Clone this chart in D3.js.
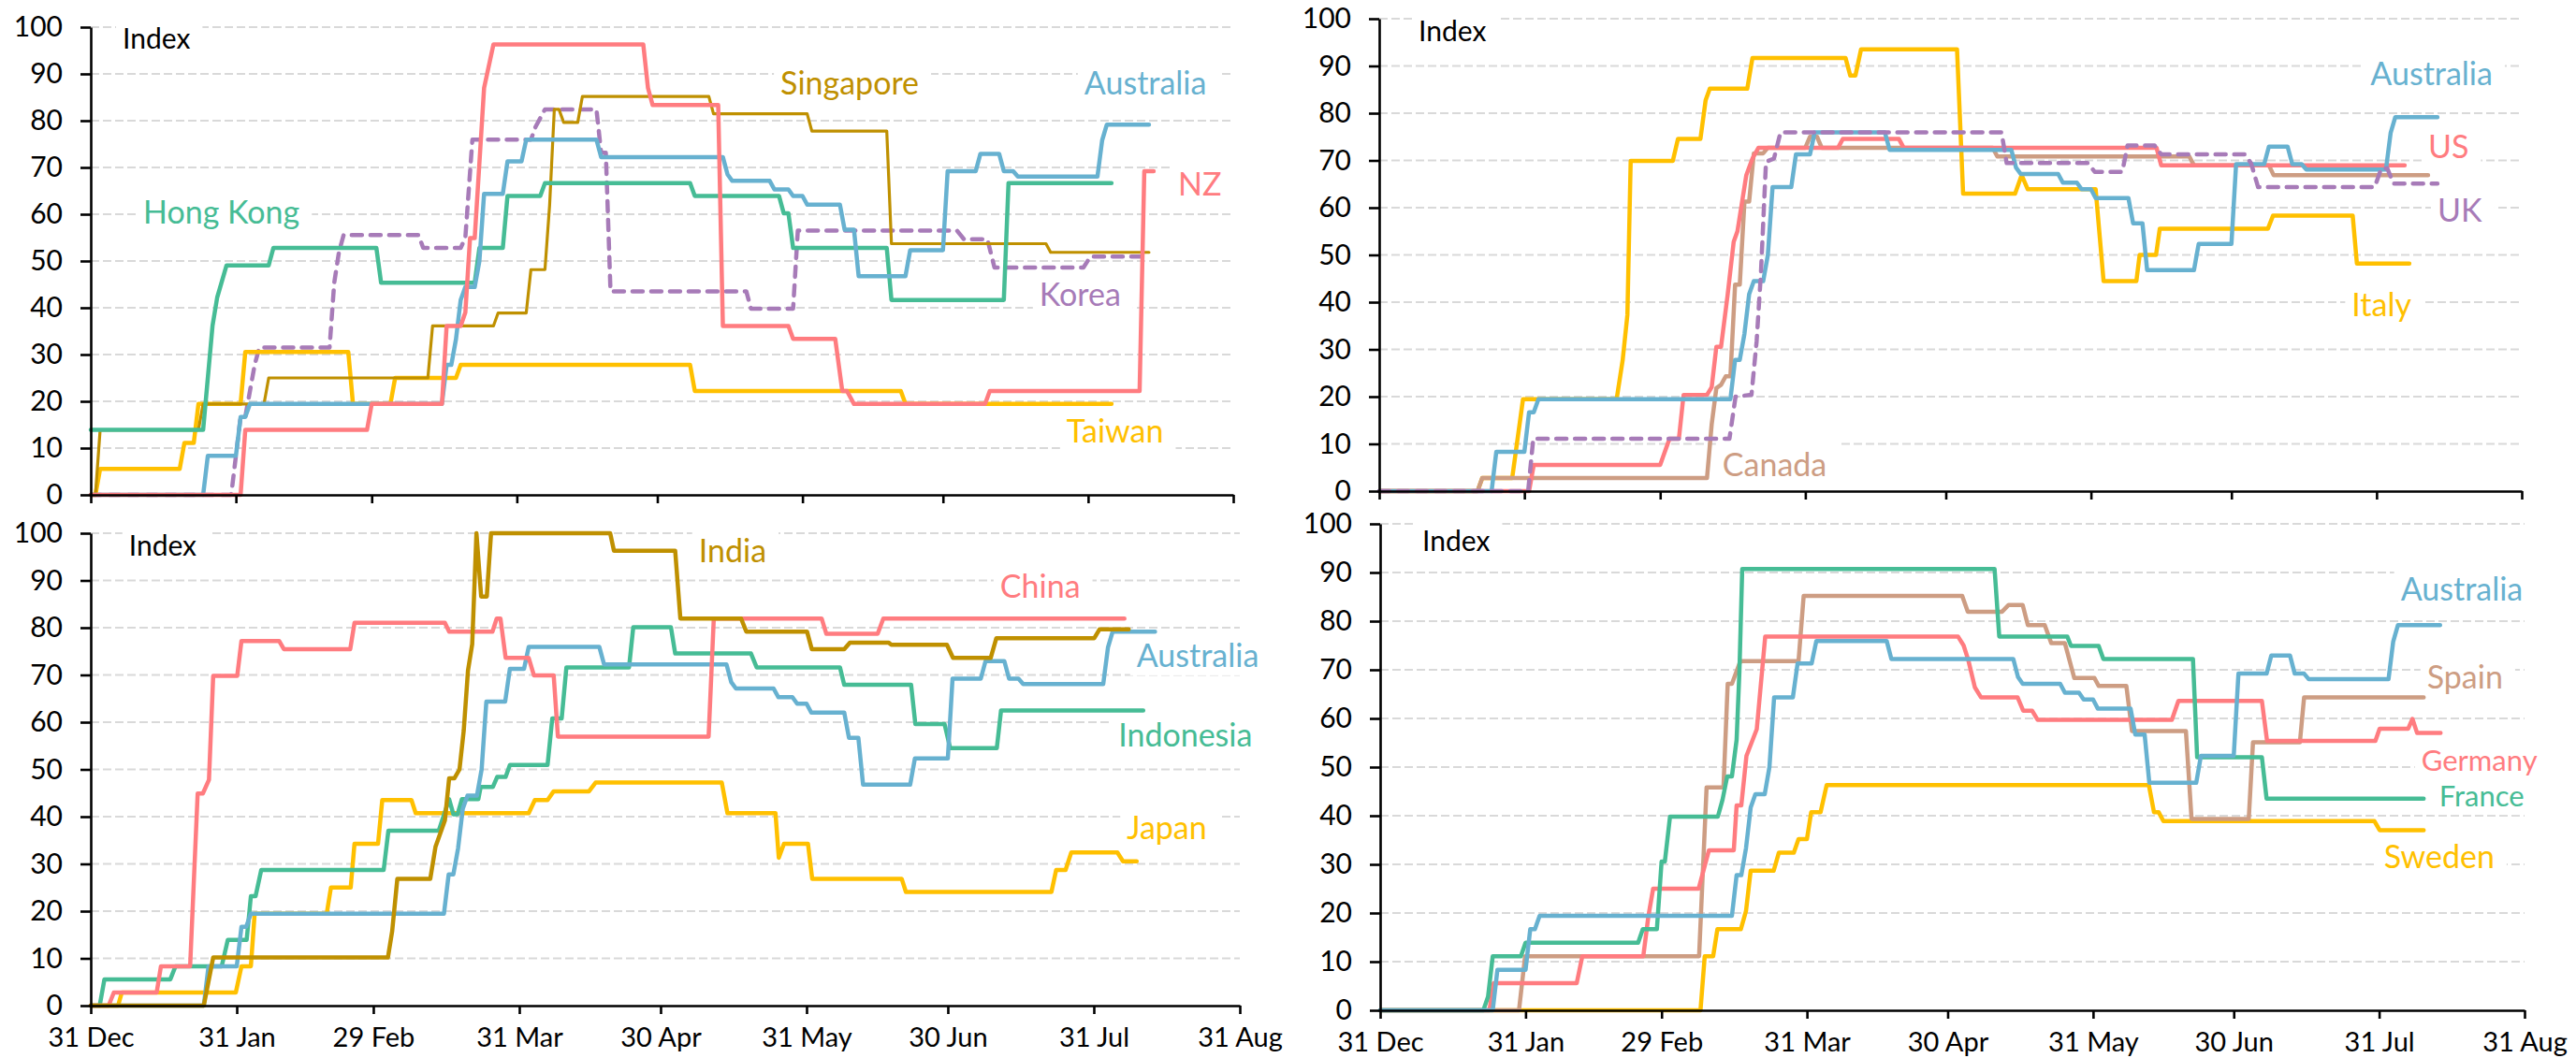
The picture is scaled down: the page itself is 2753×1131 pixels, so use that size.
<!DOCTYPE html>
<html>
<head>
<meta charset="utf-8">
<script src="https://cdn.jsdelivr.net/npm/d3@7"></script>
<style>
  html, body { margin: 0; padding: 0; background: #ffffff; }
  svg { display: block; }
  text { font-family: 'Lato', 'Noto Sans', sans-serif; }
</style>
</head>
<body>
<svg id="chart" width="2753" height="1131"></svg>
<script>
// ---------- DATA (day offset from 31 Dec 2019, index value) ----------
const tickDays   = [0, 31, 60, 91, 121, 152, 182, 213, 244];
const tickLabels = ["31 Dec", "31 Jan", "29 Feb", "31 Mar", "30 Apr", "31 May", "30 Jun", "31 Jul", "31 Aug"];
const yTicks     = [0, 10, 20, 30, 40, 50, 60, 70, 80, 90, 100];

const australia = [[0,0],[24,0],[25,8.33],[31,8.33],[32,16.67],[33,16.67],[34,19.44],[75,19.44],[76,27.78],[77,27.78],[78,33.3],[79,41.67],[80,44.44],[82,44.44],[83,50],[84,64.35],[88,64.35],[89,71.3],[92,71.3],[93,75.93],[108,75.93],[109,72.22],[135,72.22],[136,68.5],[137,67.13],[145,67.13],[146,65.3],[149,65.3],[150,63.9],[152,63.9],[153,62.04],[160,62.04],[161,56.7],[163,56.7],[164,46.76],[174,46.76],[175,52.31],[182,52.31],[183,69.21],[189,69.21],[190,72.92],[194,72.92],[195,69.21],[197,69.21],[198,68.06],[215,68.06],[216,75.8],[217,79.17],[226,79.17]];

const nz = [[0,0],[32,0],[33,13.89],[59,13.89],[60,19.44],[75,19.44],[76,36.11],[79,36.11],[80,39],[81,54.9],[82,54.9],[84,87],[86,96.3],[118,96.3],[119,87],[120,83.33],[134,83.33],[135,36.11],[149,36.11],[150,33.33],[159,33.33],[160.5,22.2],[161.5,22.2],[163,19.44],[191,19.44],[192,22.22],[224,22.22],[225,69.21],[227,69.21]];

const singapore = [[0,0],[1,0],[2,13.89],[23,13.89],[24,19.44],[37,19.44],[38,25],[72,25],[73,36.11],[86,36.11],[87,38.89],[93,38.89],[94,48.15],[97,48.15],[98,62],[99,82.41],[100,82.41],[101,79.63],[104,79.63],[105,85.19],[132,85.19],[133,81.48],[153,81.48],[154,77.78],[170,77.78],[171,53.7],[204,53.7],[205,51.85],[226,51.85]];

const hongKong = [[0,13.89],[24,13.89],[26,36.11],[27,42.2],[29,49.07],[38,49.07],[39,52.78],[61,52.78],[62,45.37],[82,45.37],[83,52.78],[88,52.78],[89,63.89],[96,63.89],[97,66.67],[128,66.67],[129,63.89],[147,63.89],[148,60.19],[149,60.19],[150,52.78],[170,52.78],[171,41.67],[195,41.67],[196,66.67],[218,66.67]];

const korea = [[0,0],[30,0],[31,8.33],[32,16.67],[33,16.67],[35,27.78],[36,31.48],[51,31.48],[52,45.37],[53,51.85],[54,55.56],[70,55.56],[71,52.78],[79,52.78],[80,55],[81.5,75.93],[94,75.93],[95,78.7],[97,82.41],[108,82.41],[109,73.15],[110,73.15],[111,43.52],[140,43.52],[141,39.81],[150,39.81],[151,56.48],[185,56.48],[186.5,54.63],[191.5,54.63],[193,48.61],[212,48.61],[213.5,50.93],[225,50.93]];

const taiwan = [[0,0],[1,0],[2,5.56],[19,5.56],[20,11.11],[22,11.11],[23,19.44],[32,19.44],[33,30.56],[55,30.56],[56,19.44],[64,19.44],[65,25],[78,25],[79,27.78],[128,27.78],[129,22.22],[173,22.22],[174,19.44],[218,19.44]];

const us = [[0,0],[32,0],[33,5.56],[60,5.56],[62,11.11],[64,11.11],[65,20.37],[70,20.37],[71,22],[72,30.56],[73,30.56],[74.4,41.5],[75.7,52.78],[76.5,55],[78.4,66.9],[79.7,70.4],[81,72.69],[98,72.69],[99,74.54],[111,74.54],[112,72.69],[166,72.69],[167,68.98],[219,68.98]];

const canada = [[0,0],[21,0],[22,2.78],[70,2.78],[71,14.1],[72,21.8],[73,22.5],[74,24.3],[75,24.3],[76,43.7],[77,43.7],[78,61.3],[79,61.3],[80,71.5],[82,71.5],[83,72.69],[91,72.69],[92,75],[93.5,75],[94.5,72.69],[131,72.69],[132,70.83],[173,70.83],[174,68.98],[190,68.98],[191,66.9],[224,66.9]];

const italy = [[0,0],[21,0],[22,2.78],[28.4,2.78],[30.7,19.44],[50.7,19.44],[52,27.8],[53,37.3],[53.7,69.9],[62.7,69.9],[63.8,74.54],[68.6,74.54],[69.7,82.7],[70.6,85.19],[78.6,85.19],[79.7,91.67],[99.6,91.67],[100.6,87.96],[101.7,87.96],[102.9,93.52],[123.4,93.52],[124.7,62.96],[135.8,62.96],[137.2,66.9],[138.5,63.9],[153,63.9],[154.7,44.44],[161.7,44.44],[162.4,50],[165.9,50],[166.7,55.56],[189.8,55.56],[190.9,58.33],[207.9,58.33],[208.8,48.15],[220,48.15]];

const uk = [[0,0],[31.8,0],[32.9,11.11],[74.8,11.11],[76.1,20],[79.5,20.4],[80.6,31.7],[81.5,45.8],[82.6,69.7],[84.3,70.4],[85.7,75.93],[132.9,75.93],[134,69.44],[151.3,69.44],[152.8,67.59],[158.7,67.59],[159.8,73.15],[165.6,73.15],[167,71.3],[184.8,71.3],[186.2,69.4],[187.7,64.35],[212.6,64.35],[214,68.3],[215.3,68.3],[216.6,65.1],[226,65.1]];

const china = [[0,0],[3.8,0],[4.9,2.78],[14,2.78],[14.9,8.33],[21.1,8.33],[22.7,44.9],[23.8,44.9],[25.1,47.8],[26,69.8],[31.1,69.8],[32,77.2],[40,77.2],[41,75.46],[55.1,75.46],[56,81.02],[75.2,81.02],[76.1,79.17],[85.3,79.17],[86.2,81.94],[87,81.94],[88.1,73.61],[93,73.61],[94.1,69.91],[98.3,69.91],[99.2,56.94],[131.2,56.94],[132.3,81.94],[155.2,81.94],[156.2,78.7],[167.1,78.7],[168.3,81.94],[219.5,81.94]];

const india = [[0,0],[24,0],[26,10.19],[63.1,10.19],[64,15.7],[65.1,26.85],[72.1,26.85],[73.2,33.6],[75.2,39.2],[76.1,48.1],[77.2,48.1],[78.3,50],[79.2,58.2],[80.1,70.9],[81,76.5],[81.9,100],[82.9,86.6],[84.1,86.6],[85,100],[110.3,100],[111.1,96.3],[124.1,96.3],[125.2,81.94],[138.1,81.94],[139.2,79.17],[152.1,79.17],[153.1,75.46],[160,75.46],[161.2,76.85],[169.4,76.85],[170,76.4],[181.8,76.4],[183.1,73.61],[191.1,73.61],[192.3,77.78],[213.1,77.78],[214.2,79.63],[220.4,79.63]];

const indonesia = [[0,0],[1.9,0],[2.9,5.56],[16.9,5.56],[18,8.33],[27.8,8.33],[29.1,13.89],[33.1,13.89],[34,23.15],[35,23.15],[36.2,28.7],[62.2,28.7],[63.2,37.04],[73.9,37.04],[76.1,43.7],[77,40.5],[77.9,40.5],[78.8,43.7],[82.3,43.7],[82.8,46.3],[85.4,46.3],[86.3,48.4],[88.1,48.4],[89,50.93],[97,50.93],[98,60.8],[100,60.8],[101,71.6],[114.3,71.6],[115.2,80.1],[123.2,80.1],[124.1,74.54],[140.2,74.54],[141.4,71.6],[159.1,71.6],[160,67.9],[174.2,67.9],[175.1,59.6],[181.3,59.6],[182.5,54.5],[192.4,54.5],[193.3,62.5],[223.5,62.5]];

const japan = [[0,0],[5.8,0],[6.6,2.78],[30.8,2.78],[32,8.33],[34,8.33],[34.8,19.44],[50.1,19.44],[51,25],[55.2,25],[56,34.26],[61,34.26],[61.9,43.52],[68.1,43.52],[69,40.74],[93,40.74],[94.3,43.52],[97,43.52],[98.3,45.37],[105.8,45.37],[107.2,47.22],[134,47.22],[135.2,40.74],[145.4,40.74],[146.1,31.3],[147.2,34.26],[152.3,34.26],[153.2,26.85],[172.2,26.85],[173.1,24.07],[204,24.07],[205,28.7],[207,28.7],[208.2,32.41],[218,32.41],[219.2,30.56],[222.1,30.56]];

const france = [[0,0],[22,0],[23,2.8],[24,11.11],[30,11.11],[31,13.89],[55,13.89],[56,16.67],[59,16.67],[60,30.56],[60.7,30.56],[61.8,39.81],[72,39.81],[73,43.3],[74,48.1],[75,48.1],[76,55.6],[76.6,69.7],[77.2,90.74],[131,90.74],[132,76.85],[146.5,76.85],[147.3,74.9],[153.2,74.9],[154.2,72.22],[173.3,72.22],[174.2,52],[188,52],[189,43.52],[222.5,43.52]];

const germany = [[0,0],[23.3,0],[24.2,5.56],[41.9,5.56],[43.1,11.11],[56.1,11.11],[57.2,19.4],[58.2,25],[67.9,25],[70.1,32.9],[75.4,32.9],[76,42.1],[77,42.1],[78.1,52.3],[80.3,57.8],[82.1,76.85],[123.2,76.85],[124.4,75],[125.4,72],[126.8,66.4],[128.1,64.35],[135.9,64.35],[137.1,61.6],[139,61.6],[140.2,59.7],[168.8,59.7],[170.2,63.6],[188,63.6],[189.1,55.4],[212.2,55.4],[213.1,57.9],[219.2,57.9],[220.1,59.9],[221.1,57],[226.1,57]];

const spain = [[0,0],[29.6,0],[30.9,11.11],[68,11.11],[69.6,45.83],[73.2,45.83],[74.1,67.13],[75,67.13],[76.8,71.76],[89.2,71.76],[90.3,85.19],[124.1,85.19],[125.3,81.94],[132.6,81.94],[134,83.33],[137,83.33],[138.1,79.17],[141.7,79.17],[143.1,75.46],[146,75.46],[148,68.3],[152.3,68.3],[153.2,66.67],[159.1,66.67],[160.3,57.41],[171.8,57.41],[173,39.35],[185.2,39.35],[186.1,55.09],[196.1,55.09],[197,64.35],[222.5,64.35]];

const sweden = [[0,0],[68.3,0],[69.2,11.11],[71,11.11],[71.9,16.67],[76.9,16.67],[78,20.4],[79,28.7],[83.9,28.7],[85,32.4],[88.2,32.4],[89.2,35.2],[91,35.2],[91.9,40.7],[93.9,40.7],[95.2,46.3],[163.9,46.3],[165,40.7],[166,40.7],[167,38.89],[212,38.89],[213.1,37.04],[222.5,37.04]];

// ---------- STYLE ----------
const BLUE = "#67B1D0", PINK = "#FF7C80", GOLD = "#BF9000", GREEN = "#46BC95",
      PURPLE = "#A77BB8", YELLOW = "#FFC000", TAN = "#CD9D83";

const BASE = Date.UTC(2019, 11, 31);
const toDate = d => new Date(BASE + d * 864e5);

const panels = [
  { xr: [97, 1318], yr: [529, 29], showX: false,
    series: [
      { data: korea, color: PURPLE, dash: true },
      { data: taiwan, color: YELLOW },
      { data: singapore, color: GOLD, w: 3.2 },
      { data: hongKong, color: GREEN },
      { data: australia, color: BLUE },
      { data: nz, color: PINK }
    ],
    labels: [
      { t: "Index", d: 6.8, v: 95.4, c: "#000", s: 30 },
      { t: "Hong Kong", d: 11.2, v: 58.1, c: GREEN },
      { t: "Singapore", d: 147.3, v: 85.7, c: GOLD },
      { t: "Australia", d: 212.2, v: 85.7, c: BLUE },
      { t: "NZ", d: 232.2, v: 64, c: PINK },
      { t: "Korea", d: 202.6, v: 40.4, c: PURPLE },
      { t: "Taiwan", d: 208.4, v: 11.2, c: YELLOW }
    ] },
  { xr: [1474, 2695], yr: [525, 20], showX: false,
    series: [
      { data: italy, color: YELLOW },
      { data: canada, color: TAN },
      { data: us, color: PINK },
      { data: australia, color: BLUE },
      { data: uk, color: PURPLE, dash: true }
    ],
    labels: [
      { t: "Index", d: 8.4, v: 95.3, c: "#000", s: 30 },
      { t: "Canada", d: 73.3, v: 3.2, c: TAN },
      { t: "Australia", d: 211.7, v: 86, c: BLUE },
      { t: "US", d: 224, v: 70.4, c: PINK },
      { t: "UK", d: 226, v: 57, c: PURPLE },
      { t: "Italy", d: 207.7, v: 37.1, c: YELLOW }
    ] },
  { xr: [97, 1325], yr: [1075, 570], showX: true,
    series: [
      { data: japan, color: YELLOW },
      { data: indonesia, color: GREEN },
      { data: australia, color: BLUE },
      { data: china, color: PINK },
      { data: india, color: GOLD }
    ],
    labels: [
      { t: "Index", d: 8.1, v: 95.2, c: "#000", s: 30 },
      { t: "India", d: 129.1, v: 93.9, c: GOLD },
      { t: "China", d: 193.1, v: 86.3, c: PINK },
      { t: "Australia", d: 222.1, v: 71.7, c: BLUE },
      { t: "Indonesia", d: 218.2, v: 54.9, c: GREEN },
      { t: "Japan", d: 220, v: 35.2, c: YELLOW }
    ] },
  { xr: [1475, 2698], yr: [1080, 560], showX: true,
    series: [
      { data: sweden, color: YELLOW },
      { data: spain, color: TAN },
      { data: germany, color: PINK },
      { data: france, color: GREEN },
      { data: australia, color: BLUE }
    ],
    labels: [
      { t: "Index", d: 9, v: 94.4, c: "#000", s: 30 },
      { t: "Australia", d: 217.6, v: 84.2, c: BLUE },
      { t: "Spain", d: 223.2, v: 66.2, c: TAN },
      { t: "Germany", d: 222, v: 49.3, c: PINK, s: 31 },
      { t: "France", d: 225.8, v: 41.9, c: GREEN, s: 31 },
      { t: "Sweden", d: 214, v: 29.2, c: YELLOW }
    ] }
];

const svg = d3.select("#chart");

panels.forEach(p => {
  const x = d3.scaleUtc().domain([toDate(0), toDate(244)]).range(p.xr);
  const y = d3.scaleLinear().domain([0, 100]).range(p.yr);
  const g = svg.append("g");
  const gGrid = g.append("g"), gBox = g.append("g"), gLines = g.append("g"),
        gText = g.append("g"), gAxes = g.append("g");

  // gridlines
  gGrid.selectAll("line").data(yTicks.filter(v => v > 0)).join("line")
    .attr("x1", p.xr[0]).attr("x2", p.xr[1])
    .attr("y1", d => y(d)).attr("y2", d => y(d))
    .attr("stroke", "#D9D9D9").attr("stroke-width", 2)
    .attr("stroke-dasharray", "9,4");

  // series
  const line = d3.line().x(d => x(toDate(d[0]))).y(d => y(d[1]));
  p.series.forEach(s => {
    gLines.append("path").datum(s.data)
      .attr("d", line)
      .attr("fill", "none")
      .attr("stroke", s.color)
      .attr("stroke-width", s.w || 4.5)
      .attr("stroke-linejoin", "round")
      .attr("stroke-linecap", "round")
      .attr("stroke-dasharray", s.dash ? "11,9" : null);
  });

  // labels with white boxes
  p.labels.forEach(l => {
    const t = gText.append("text")
      .attr("x", x(toDate(l.d))).attr("y", y(l.v))
      .attr("fill", l.c)
      .attr("font-size", l.s || 34)
      .text(l.t);
    const b = t.node().getBBox();
    gBox.append("rect")
      .attr("x", b.x - 7).attr("y", b.y - 2)
      .attr("width", b.width + 20).attr("height", b.height + 4)
      .attr("fill", "#fff");
  });

  // axes
  const yAxis = d3.axisLeft(y).tickValues(yTicks).tickSize(11).tickSizeOuter(0).tickPadding(19);
  const ya = gAxes.append("g").attr("transform", `translate(${p.xr[0]},0)`).call(yAxis);
  const xAxis = d3.axisBottom(x).tickValues(tickDays.map(toDate))
    .tickSize(9).tickSizeOuter(0).tickPadding(14)
    .tickFormat((d, i) => p.showX ? tickLabels[i] : "");
  const xa = gAxes.append("g").attr("transform", `translate(0,${y(0)})`).call(xAxis);
  [ya, xa].forEach(a => {
    a.select(".domain").attr("stroke", "#000").attr("stroke-width", 2.6);
    a.selectAll(".tick line").attr("stroke", "#000").attr("stroke-width", 2.6);
    a.selectAll(".tick text").attr("fill", "#000")
      .attr("font-family", "'Lato', 'Noto Sans', sans-serif");
  });
  ya.selectAll(".tick text").attr("font-size", 30);
  xa.selectAll(".tick text").attr("font-size", 29);
});
</script>
</body>
</html>
